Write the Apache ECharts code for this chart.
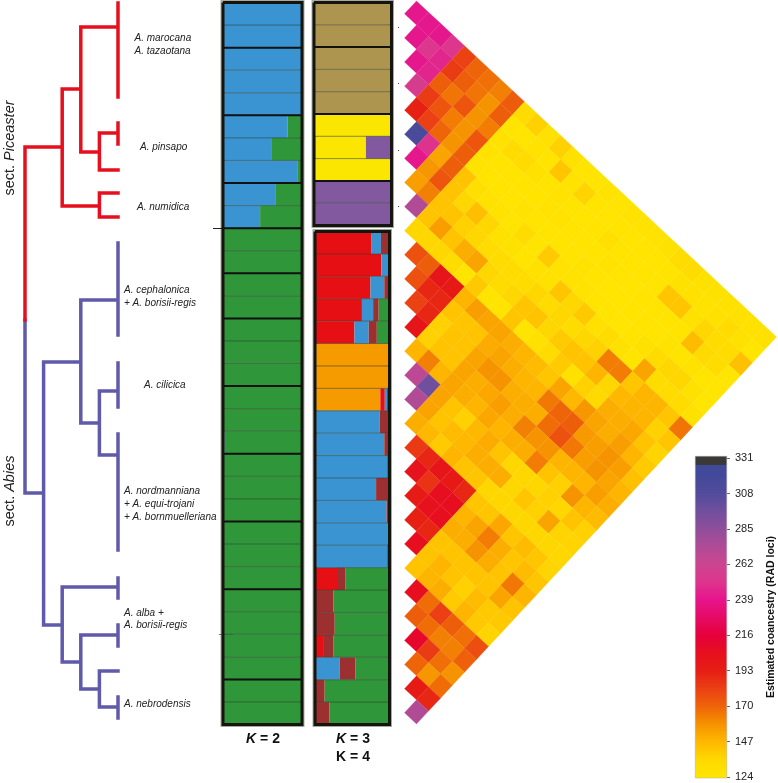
<!DOCTYPE html>
<html>
<head>
<meta charset="utf-8">
<style>html,body{margin:0;padding:0;background:#fff}#chart{width:778px;height:783px}</style>
<script src="https://cdn.jsdelivr.net/npm/echarts@6/dist/echarts.min.js"></script>
</head>
<body>
<div id="chart"></div>
<script>
// coancestry matrix, upper triangle: each row is sample i against samples i, i+1, ... 29
var coancestryRows = [
    [240,240,240,252,181,170,167,163,173,132,138,128,138,128,126,126,127,126,127,127,127,128,132,132,128,128,128,128,128,128],
    [240,252,246,183,172,166,158,172,126,126,127,126,142,127,137,126,126,126,126,126,126,126,128,128,127,128,133,128,125],
    [240,245,172,166,175,158,164,127,133,133,128,126,127,126,126,126,130,126,126,126,126,142,142,128,136,132,132,144],
    [256,183,175,164,158,175,127,126,126,126,126,127,127,126,126,126,127,126,125,126,126,126,126,146,134,132,125],
    [192,182,170,158,172,127,126,126,126,127,126,126,126,126,127,126,125,125,126,126,126,127,126,127,126,125],
    [315,250,153,172,143,130,127,127,126,133,126,140,127,127,127,126,126,125,126,128,132,136,136,128,125],
    [240,157,175,143,136,145,136,128,128,126,128,128,142,136,141,129,132,128,126,153,132,133,133,128],
    [155,163,143,143,138,136,132,132,133,132,136,133,136,132,136,138,164,164,142,148,148,142,166],
    [273,143,155,143,150,153,136,133,136,142,143,136,140,143,143,148,136,147,148,148,138,142],
    [136,136,136,132,126,141,126,126,142,126,128,133,140,128,138,135,150,150,152,143,137],
    [176,172,200,197,148,155,153,153,150,148,146,142,153,147,157,153,150,155,148,140],
    [176,190,190,143,142,143,151,153,150,148,148,165,170,172,156,155,158,155,144],
    [181,190,138,143,143,153,158,158,150,150,150,168,176,165,155,158,153,148],
    [200,138,143,143,153,150,152,155,150,163,158,158,148,148,148,155,150],
    [148,163,148,153,150,148,152,148,150,150,164,143,138,158,148,146],
    [268,297,153,143,138,147,151,143,136,136,136,138,136,143,138],
    [273,153,143,146,147,150,150,150,136,142,138,153,137,137],
    [150,147,140,148,143,142,136,136,136,136,136,136,136],
    [184,190,200,197,190,142,142,152,142,146,142,137],
    [202,186,205,205,148,153,164,150,142,146,142],
    [195,203,205,150,150,158,150,143,165,148],
    [192,190,143,143,143,143,143,153,143],
    [205,143,148,143,138,146,141,141],
    [143,148,150,140,148,141,137],
    [205,168,182,172,167,177],
    [172,168,163,163,171],
    [210,183,167,158],
    [170,157,168],
    [195,190],
    [273]
];

var colorRamp = ['#ffe600','#ffd800','#ffb800','#f59200','#ee6409','#eb4014','#e61e14','#e60f1e','#e6003c','#e60a64',
    '#e6148c','#de348d','#cb4590','#b04b96','#8f4e9a','#704f9e','#524b9b','#43499a','#3f4a9a'];
var tickValues = [124,147,170,193,216,239,262,285,308,331];

// K = 2 ancestry, 32 samples
var k2Blue = [1,1,1,1,1,.82,.62,.94,.67,.47,0,0,0,0,0,0,0,0,0,.02,0,0,0,0,0,0,0,0,0,0,0,0];
var k2Green = [0,0,0,0,0,.18,.38,.06,.33,.53,1,1,1,1,1,1,1,1,1,.98,1,1,1,1,1,1,1,1,1,1,1,1];
var k2Groups = [2,5,8,10,12,14,17,20,23,26,30];

// K = 4 ancestry, sect. Piceaster samples
var kTopBrown = [1,1,1,1,1,0,.02,0,0,0];
var kTopYellow = [0,0,0,0,0,1,.65,1,0,0];
var kTopPurple = [0,0,0,0,0,0,.33,0,1,1];
var kTopGroups = [2,5,8];

// K = 3 ancestry, sect. Abies samples
var kOrange = [0,0,0,0,0,1,1,.877,0,0,0,0,0,0,0,0,0,0,0,0,0,0];
var kRed = [.76,.89,.745,.63,.53,0,0,.06,0,0,0,0,0,0,0,.295,0,0,.12,0,0,0];
var kBlue = [.125,.11,.185,.15,.19,0,0,.03,.87,.93,.97,.82,.96,1,.97,0,0,0,0,.33,0,0];
var kBrown = [.115,0,.07,.075,.11,0,0,.033,.13,.07,.03,.18,.04,0,.03,.11,.245,.265,.13,.21,.13,.195];
var kGreen = [0,0,0,.145,.17,0,0,0,0,0,0,0,0,0,0,.595,.755,.735,.75,.46,.87,.805];

// tree branches as [depth, height]
var redBranches = [
    [[0,320],[0,147],[2,147]], [[2,89],[2,206]], [[2,89],[3,89]], [[3,27],[3,152]], [[3,27],[5,27]], [[5,3],[5,97]],
    [[3,152],[4,152]], [[4,133],[4,170]], [[4,133],[5,133]], [[5,123],[5,144]], [[4,170],[5,170]],
    [[2,206],[4,206]], [[4,193],[4,217]], [[4,193],[5,193]], [[4,217],[5,217]]
];
var blueBranches = [
    [[0,320],[0,493],[1,493]], [[1,362],[1,625]], [[1,362],[3,362]], [[3,300],[3,423]], [[3,300],[5,300]], [[5,243],[5,335]],
    [[3,423],[4,423]], [[4,391],[4,455]], [[4,391],[5,391]], [[5,363],[5,407]], [[4,455],[5,455]], [[5,434],[5,550]],
    [[1,625],[2,625]], [[2,587],[2,662]], [[2,587],[5,587]], [[5,578],[5,598]], [[2,662],[3,662]], [[3,635],[3,689]],
    [[3,635],[5,635]], [[5,625],[5,646]], [[3,689],[4,689]], [[4,671],[4,707]], [[4,671],[5,671]], [[4,707],[5,707]], [[5,697],[5,718]]
];

var FONT = '"Liberation Sans", Arial, sans-serif';
var rowSlant = 0.0353;  // the published triangle is slightly sheared

var grids = [], xAxes = [], yAxes = [], series = [];

function addAxes(grid, xAxis, yAxis) {
    grids.push(grid);
    xAxes.push(Object.assign({gridIndex: grids.length - 1}, xAxis));
    yAxes.push(Object.assign({gridIndex: grids.length - 1}, yAxis));
    return grids.length - 1;
}

var hiddenValue = {type: 'value', show: false};

// heatmap triangle
var cells = [];
coancestryRows.forEach(function(row, i) {
    row.forEach(function(v, d) {
        cells.push([d, i + d / 2, v]);
    });
});
var heatIdx = addAxes({left: 404.5, top: 0.95, width: 372, height: 723},
    Object.assign({min: -1, max: 30}, hiddenValue),
    Object.assign({min: -0.5, max: 29.5, inverse: true}, hiddenValue));
series.push({
    type: 'custom',
    xAxisIndex: heatIdx,
    yAxisIndex: heatIdx,
    data: cells,
    clip: false,
    encode: {x: 0, y: 1},
    renderItem: function(params, api) {
        var d = api.value(0), p = api.value(1);
        var pt = function(dx, dp) {
            return api.coord([d + dx, p + dp - rowSlant * (d + dx)]);
        };
        var color = api.visual('color');
        return {
            type: 'polygon',
            shape: {points: [pt(-1, 0), pt(0, -0.5), pt(1, 0), pt(0, 0.5)]},
            style: {fill: color, stroke: color, lineWidth: 0.3}
        };
    }
});

// tree
function flatten(branches) {
    var out = [];
    branches.forEach(function(b) {
        out = out.concat(b);
        out.push(['-', '-']);
    });
    return out;
}
var treeIdx = addAxes({left: 25, top: 0, width: 93, height: 783},
    Object.assign({min: 0, max: 5}, hiddenValue),
    Object.assign({min: 0, max: 783, inverse: true}, hiddenValue));
[[redBranches, '#e60f1e', 3], [blueBranches, '#5f5aaa', 2]].forEach(function(t) {
    series.push({
        type: 'line',
        xAxisIndex: treeIdx,
        yAxisIndex: treeIdx,
        data: flatten(t[0]),
        symbol: 'none',
        clip: false,
        z: t[2],
        lineStyle: {color: t[1], width: 3.5, cap: 'square', join: 'miter'}
    });
});

// one ancestry panel: stacked bars plus a value axis over them for the row lines
function addPanel(grid, clusters, groups) {
    var n = clusters[0][0].length;
    var rows = clusters[0][0].map(function(v, i) { return String(i); });
    var idx = addAxes(Object.assign({show: true, borderColor: '#a8a8a0', borderWidth: 5}, grid),
        Object.assign({min: 0, max: 1}, hiddenValue),
        {type: 'category', data: rows, inverse: true, show: false});
    clusters.forEach(function(c) {
        series.push({
            type: 'bar',
            stack: 'q' + idx,
            xAxisIndex: idx,
            yAxisIndex: idx,
            barCategoryGap: 0,
            data: c[0],
            itemStyle: {color: c[1]},
            silent: true
        });
    });
    var lineIdx = addAxes(Object.assign({show: false}, grid),
        Object.assign({min: 0, max: 1}, hiddenValue),
        Object.assign({min: 0, max: n, inverse: true}, hiddenValue));
    var thin = [], thick = [];
    rows.forEach(function(r, i) {
        if (i > 0) thin.push([0, i], [1, i], ['-', '-']);
    });
    groups.forEach(function(e) {
        thick.push([0, e], [1, e], ['-', '-']);
    });
    series.push({type: 'line', xAxisIndex: lineIdx, yAxisIndex: lineIdx, data: thin, symbol: 'none', z: 6,
        lineStyle: {color: '#2b3a2b', width: 1, opacity: 0.55}});
    series.push({type: 'line', xAxisIndex: lineIdx, yAxisIndex: lineIdx, data: thick, symbol: 'none', z: 7,
        lineStyle: {color: '#111', width: 2}});
    series.push({type: 'line', xAxisIndex: lineIdx, yAxisIndex: lineIdx, symbol: 'none', z: 8, clip: false,
        data: [[0, 0], [1, 0], [1, n], [0, n], [0, 0]],
        lineStyle: {color: '#151510', width: 3, join: 'miter'}});
}

addPanel({left: 223, top: 2.5, width: 79, height: 722},
    [[k2Blue, '#3a94d2'], [k2Green, '#2f9639']], k2Groups);
addPanel({left: 314, top: 2.5, width: 77.5, height: 223},
    [[kTopBrown, '#ad9550'], [kTopYellow, '#fae600'], [kTopPurple, '#82589e']], kTopGroups);
addPanel({left: 315, top: 231.5, width: 74.5, height: 493},
    [[kOrange, '#f59b00'], [kRed, '#e60f14'], [kBlue, '#3a94d2'], [kBrown, '#9c2f2f'], [kGreen, '#2f9639']], []);

// colour bar
var barMin = 123.35, barMax = 332.35;
var barStops = colorRamp.map(function(c, k) {
    return {offset: (124 + 11.5 * k - barMin) / (barMax - barMin), color: c};
});
barStops[barStops.length - 1].offset = (326.5 - barMin) / (barMax - barMin);
barStops.push({offset: (326.6 - barMin) / (barMax - barMin), color: '#3b3838'}, {offset: 1, color: '#3b3838'});
var barIdx = addAxes({left: 695, top: 456, width: 35, height: 322},
    {type: 'category', data: [''], show: false},
    {
        type: 'value',
        position: 'right',
        min: barMin,
        max: barMax,
        splitLine: {show: false},
        axisLine: {show: false},
        axisTick: {show: true, length: 3, customValues: tickValues, lineStyle: {color: '#666'}},
        axisLabel: {customValues: tickValues, margin: 8, color: '#222', fontSize: 11, fontFamily: FONT},
        name: 'Estimated coancestry (RAD loci)',
        nameLocation: 'middle',
        nameRotate: 90,
        nameGap: 39,
        nameTextStyle: {color: '#111', fontSize: 10.5, fontWeight: 'bold', fontFamily: FONT}
    });
series.push({
    type: 'bar',
    xAxisIndex: barIdx,
    yAxisIndex: barIdx,
    barCategoryGap: 0,
    data: [barMax],
    itemStyle: {
        color: {type: 'linear', x: 0, y: 1, x2: 0, y2: 0, colorStops: barStops},
        borderColor: '#aaa',
        borderWidth: 0.5
    }
});

function taxon(text, x, y) {
    return {type: 'text', x: x, y: y, style: {text: text, fill: '#222', font: 'italic 10px ' + FONT, textVerticalAlign: 'middle'}};
}
function sectLabel(name, y) {
    return {
        type: 'text', x: 10, y: y, rotation: Math.PI / 2,
        style: {
            text: '{n|sect. }{i|' + name + '}',
            textAlign: 'center',
            textVerticalAlign: 'middle',
            fill: '#222',
            rich: {
                n: {font: '14.5px ' + FONT, fill: '#222'},
                i: {font: 'italic 14.5px ' + FONT, fill: '#222'}
            }
        }
    };
}
function kLabel(text, x, y) {
    return {
        type: 'text', x: x, y: y,
        style: {text: text, textAlign: 'center', textVerticalAlign: 'middle', fill: '#111',
            rich: {i: {font: 'italic bold 14px ' + FONT, fill: '#111'}, b: {font: 'bold 14px ' + FONT, fill: '#111'}}}
    };
}
function dot(x, y) {
    return {type: 'rect', shape: {x: x, y: y, width: 1, height: 1}, style: {fill: '#444'}};
}

var graphics = [
    taxon('A. marocana', 134.5, 38), taxon('A. tazaotana', 134.5, 51),
    taxon('A. pinsapo', 140, 147), taxon('A. numidica', 137, 207),
    taxon('A. cephalonica', 124, 290), taxon('+ A. borisii-regis', 124, 303),
    taxon('A. cilicica', 144, 385),
    taxon('A. nordmanniana', 124, 491), taxon('+ A. equi-trojani', 124, 504), taxon('+ A. bornmuelleriana', 124, 517),
    taxon('A. alba +', 124, 613), taxon('A. borisii-regis', 124, 625), taxon('A. nebrodensis', 124, 704),
    sectLabel('Piceaster', 148), sectLabel('Abies', 491),
    kLabel('{i|K}{b| = 2}', 263, 739), kLabel('{i|K}{b| = 3}', 353, 739), kLabel('{b|K = 4}', 353, 757),
    {type: 'line', shape: {x1: 213, y1: 228.5, x2: 223, y2: 228.5}, style: {stroke: '#222', lineWidth: 1}},
    {type: 'line', shape: {x1: 219, y1: 634.5, x2: 233, y2: 634.5}, style: {stroke: '#444', lineWidth: 0.7}},
    dot(398, 27), dot(398, 83), dot(398, 150), dot(398, 206)
];

var chart = echarts.init(document.getElementById('chart'), null, {renderer: 'canvas'});
chart.setOption({
    animation: false,
    backgroundColor: '#fff',
    grid: grids,
    xAxis: xAxes,
    yAxis: yAxes,
    visualMap: {show: false, seriesIndex: 0, dimension: 2, min: 124, max: 331, inRange: {color: colorRamp}},
    graphic: {elements: graphics},
    series: series
});
</script>
</body>
</html>
